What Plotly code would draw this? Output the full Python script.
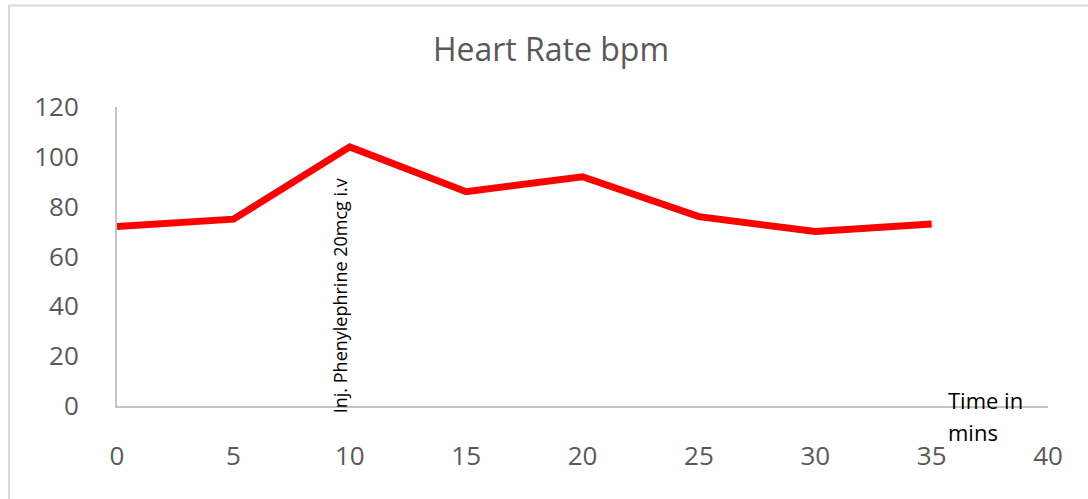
import plotly.graph_objects as go

time_min = [0, 5, 10, 15, 20, 25, 30, 35]
heart_rate = [72, 75, 104, 86, 92, 76, 70, 73]
x_ticks = [0, 5, 10, 15, 20, 25, 30, 35, 40]
y_ticks = [0, 20, 40, 60, 80, 100, 120]

W, H = 1088, 499
L, R, T, B = 117, 40, 107, 93

fig = go.Figure()
fig.add_trace(go.Scatter(x=time_min, y=heart_rate, mode="lines",
                         line=dict(color="#ff0000", width=7), showlegend=False,
                         hoverinfo="x+y"))

axis_col = "#c4c4c4"
tick_font = dict(family="Open Sans", size=26, color="#595959")
fig.update_xaxes(range=[0, 40], tickvals=x_ticks, showline=True, linecolor=axis_col,
                 linewidth=2, showgrid=False, zeroline=False, ticks="",
                 tickfont=tick_font, ticklabelstandoff=26)
fig.update_yaxes(range=[0, 120], tickvals=y_ticks, showline=True, linecolor=axis_col,
                 linewidth=2, showgrid=False, zeroline=False, ticks="",
                 tickfont=tick_font, ticklabelstandoff=31)

pw, ph = W - L - R, H - T - B
def px(xp):
    return (xp - L) / pw
def py(yp):
    return (H - B - yp) / ph

# chart frame (left and top edges visible)
fig.add_shape(type="line", xref="paper", yref="paper", x0=px(9), x1=px(9), y0=py(5), y1=py(510),
              line=dict(color="#d9d9d9", width=2))
fig.add_shape(type="line", xref="paper", yref="paper", x0=px(8), x1=px(1100), y0=py(5.5), y1=py(5.5),
              line=dict(color="#d9d9d9", width=2))

fig.add_annotation(text="Inj. Phenylephrine 20mcg i.v", x=10, y=py(415), xref="x", yref="paper",
                   textangle=-90, showarrow=False, xanchor="center", yanchor="bottom",
                   xshift=-10, font=dict(family="Open Sans", size=18, color="#000000"))
fig.add_annotation(text="Time in", x=px(946), y=py(400), xref="paper", yref="paper",
                   showarrow=False, xanchor="left", yanchor="middle",
                   font=dict(family="Open Sans", size=22, color="#000000"))
fig.add_annotation(text="mins", x=px(946), y=py(432), xref="paper", yref="paper",
                   showarrow=False, xanchor="left", yanchor="middle",
                   font=dict(family="Open Sans", size=22, color="#000000"))

fig.update_layout(
    width=W, height=H,
    margin=dict(l=L, r=R, t=T, b=B),
    paper_bgcolor="white", plot_bgcolor="white",
    title=dict(text="Heart Rate bpm", x=551 / W, xanchor="center", y=1 - 50 / H,
               yanchor="middle", yref="container",
               font=dict(family="Open Sans", size=32, color="#595959")),
)

fig.write_html("out.html", config={"displayModeBar": False},
               post_script="document.body.style.margin='0';document.body.style.overflow='hidden';")
